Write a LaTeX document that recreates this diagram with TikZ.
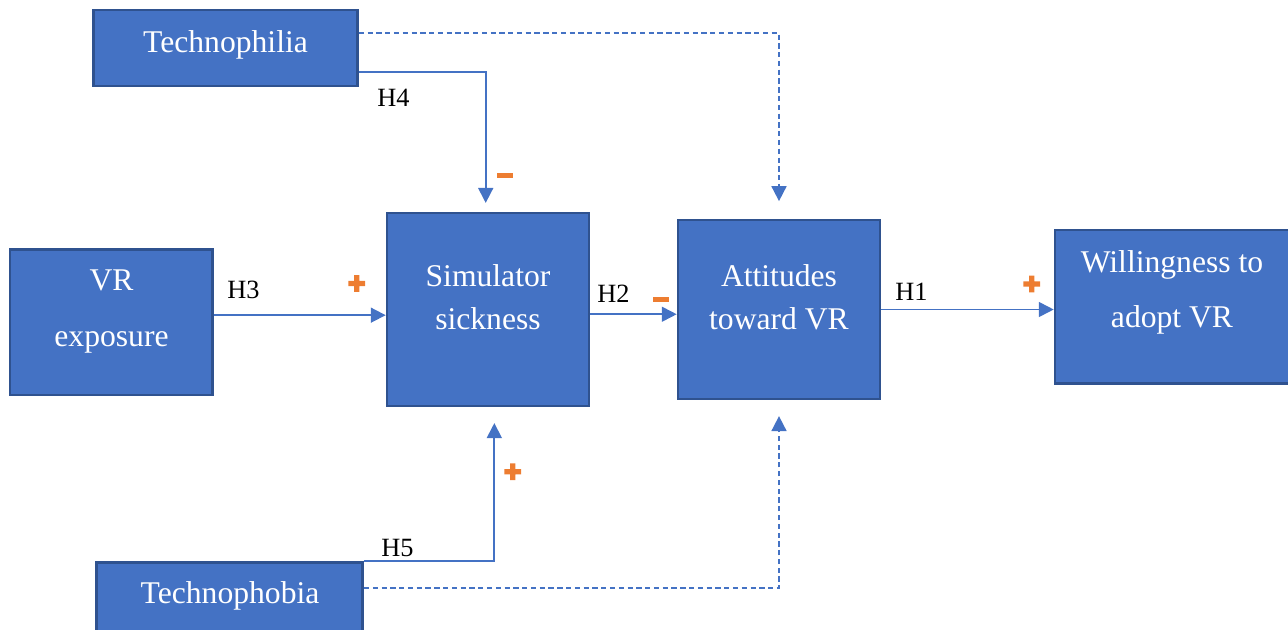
\documentclass[tikz,border=0pt]{standalone}
\usepackage{fontspec}
\setmainfont{Liberation Serif}
\usepackage{xcolor}
\definecolor{boxblue}{RGB}{68,114,196}
\definecolor{boxedge}{RGB}{47,82,143}
\definecolor{signorange}{RGB}{237,125,49}
\usetikzlibrary{arrows.meta, positioning, calc}

\tikzset{
  minus sign/.pic={\fill[signorange] (-8,-2.5) rectangle (8,2.5);},
  plus sign/.pic={\fill[signorange] (-8.3,-2.7) rectangle (8.3,2.7) (-2.7,-8.3) rectangle (2.7,8.3);}
}

\begin{document}
\begin{tikzpicture}[
    x=0.02cm, y=-0.02cm,
    varbox/.style={draw=boxedge, line width=1.5pt, fill=boxblue, inner sep=0pt},
    boxtext/.style={text=white, align=center, anchor=base, font=\fontsize{18}{24.4}\selectfont},
    hlabel/.style={anchor=base west, inner sep=0pt, font=\fontsize{15}{18}\selectfont},
    link/.style={draw=boxblue, line width=1pt, -{Triangle[length=8.5pt, width=8.5pt]}},
    moderation/.style={link, dash pattern=on 3pt off 2pt}
  ]
  \useasboundingbox (0,0) rectangle (1288,629);
  \clip (0,0) rectangle (1288,629);

  % Boxes
  \node[varbox, minimum width=5.28cm, minimum height=1.52cm] (techphil) at (225.5,48) {};
  \node[varbox, minimum width=4.05cm, minimum height=2.91cm] (vrexp) at (111.3,322.2) {};
  \node[varbox, minimum width=4.04cm, minimum height=3.86cm] (sick) at (488,309.5) {};
  \node[varbox, minimum width=4.04cm, minimum height=3.58cm] (att) at (779,309.5) {};
  \node[varbox, minimum width=4.70cm, minimum height=3.07cm] (will) at (1172.5,306.7) {};
  \node[varbox, minimum width=5.32cm, minimum height=1.52cm] (techphob) at (229.7,600.3) {};

  % Box texts (anchored on the last line)
  \node[boxtext] (techphil-txt) at (225.5,52) {Technophilia};
  \node[boxtext] (vrexp-txt) at (111.5,346) {VR\\[7pt]exposure};
  \node[boxtext] (sick-txt) at (488,329) {Simulator\\sickness};
  \node[boxtext] (att-txt) at (779,329) {Attitudes\\toward VR};
  \node[boxtext] (will-txt) at (1172,327) {Willingness to\\[6.5pt]adopt VR};
  \node[boxtext] (techphob-txt) at (230,603) {Technophobia};

  % Direct paths
  \draw[link] ([yshift=4pt]vrexp.east) coordinate (h3start) -- (h3start -| sick.west);
  \draw[link] ([yshift=-2.7pt]sick.east) coordinate (h2start) -- (h2start -| att.west);
  \draw[link] (att.east) -- (att.east -| will.west);

  % Moderators
  \draw[link, shorten >=5pt] ([yshift=-13.6pt]techphil.east) -| ([xshift=-1.3pt]sick.north);
  \draw[link, shorten >=9pt] (techphob.north east) -| ([xshift=3.6pt]sick.south);
  \draw[moderation, shorten >=10pt] ([yshift=8.5pt]techphil.east) -| (att.north);
  \draw[moderation, shorten >=9pt] ([yshift=6.8pt]techphob.east) -| (att.south);

  % Hypothesis labels
  \node[hlabel] (h4) at (377,106) {H4};
  \node[hlabel] (h3) at (227,298) {H3};
  \node[hlabel] (h2) at (597,302) {H2};
  \node[hlabel] (h1) at (895,300) {H1};
  \node[hlabel] (h5) at (381,556.7) {H5};

  % Signs
  \pic at (505,175.7) {minus sign};
  \pic at (356.7,283.5) {plus sign};
  \pic at (660.7,299) {minus sign};
  \pic at (1031.7,284) {plus sign};
  \pic at (512.7,471.7) {plus sign};

\end{tikzpicture}
\end{document}
